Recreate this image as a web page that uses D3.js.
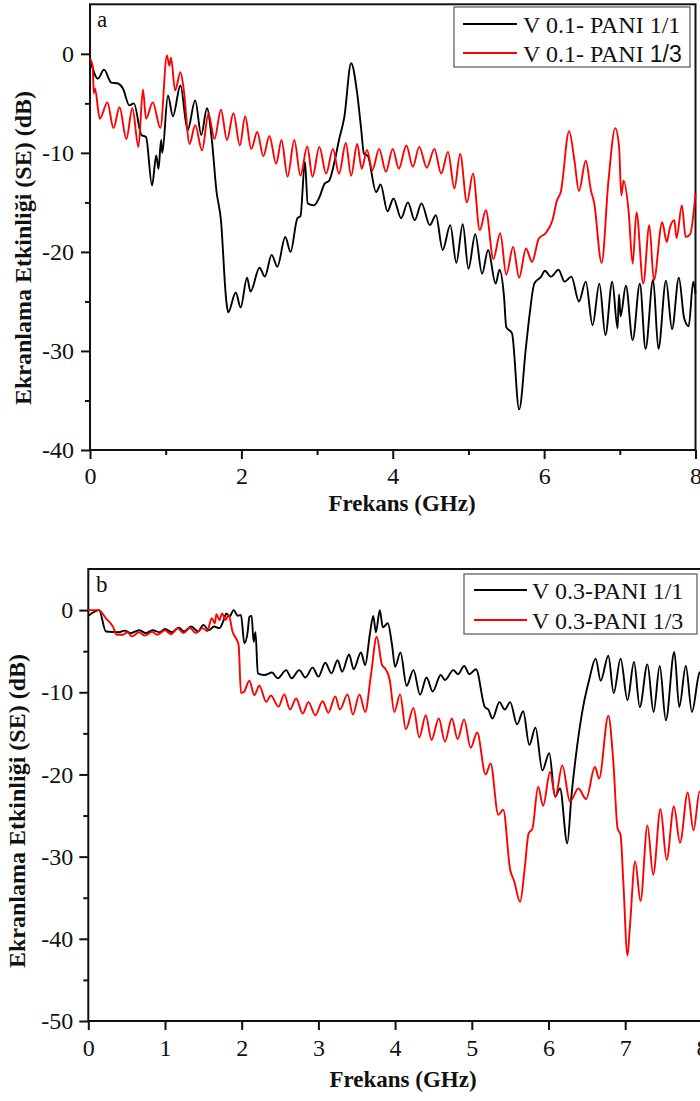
<!DOCTYPE html>
<html>
<head>
<meta charset="utf-8">
<script src="https://cdnjs.cloudflare.com/ajax/libs/d3/7.8.5/d3.min.js"></script>
<style>
  body { margin: 0; background: #fff; }
  svg { display: block; }
  .tick text { font-family: "Liberation Serif", "Times New Roman", serif; font-size: 24px; fill: #111; }
  .lbl { font-family: "Liberation Serif", "Times New Roman", serif; fill: #111; }
</style>
</head>
<body>
<svg id="chart" width="700" height="1101"></svg>
<script>
// panel a : V 0.1 - PANI
const freqA1 = [0.00,0.105,0.185,0.28,0.37,0.435,0.52,0.58,0.68,0.74,0.82,0.875,0.905,0.94,0.955,1.03,1.095,1.195,1.29,1.39,1.47,1.545,1.61,1.67,1.73,1.80,1.825,1.926,1.99,2.075,2.12,2.24,2.31,2.40,2.475,2.58,2.65,2.74,2.78,2.84,2.876,2.96,3.03,3.10,3.16,3.23,3.29,3.36,3.45,3.53,3.58,3.62,3.67,3.78,3.84,3.93,4.01,4.11,4.20,4.29,4.38,4.49,4.57,4.66,4.76,4.84,4.925,5.00,5.09,5.18,5.26,5.36,5.41,5.47,5.50,5.575,5.67,5.76,5.81,5.87,5.96,6.01,6.09,6.19,6.27,6.36,6.46,6.55,6.64,6.73,6.81,6.90,6.97,6.99,7.01,7.08,7.17,7.265,7.34,7.44,7.51,7.61,7.69,7.78,7.85,7.91,7.97,8.00];
const seA1 = [-0.5,-2.5,-1.6,-2.9,-3.0,-3.5,-5.2,-5.0,-8.2,-8.4,-13.3,-10.25,-11.6,-8.7,-10.0,-4.2,-6.3,-3.2,-7.7,-4.7,-8.2,-5.5,-8.7,-13.8,-16.8,-24.9,-26.1,-24.1,-25.6,-22.6,-24.0,-21.6,-22.5,-20.3,-21.5,-18.5,-20.0,-16.6,-16.4,-10.9,-15.1,-15.3,-14.5,-13.1,-12.8,-10.9,-8.7,-6.4,-0.95,-4.0,-7.4,-10.1,-10.3,-13.95,-13.2,-15.9,-14.6,-16.6,-15.0,-16.8,-15.1,-17.3,-16.3,-19.8,-17.3,-21.1,-17.2,-21.7,-18.2,-22.2,-19.8,-23.2,-21.8,-24.5,-27.6,-28.2,-35.9,-29.6,-26.2,-23.2,-22.5,-21.9,-22.5,-21.8,-23.0,-22.5,-25.0,-23.0,-27.4,-23.2,-28.4,-23.0,-27.7,-24.3,-26.5,-23.4,-28.9,-23.2,-29.8,-22.8,-29.8,-22.9,-27.8,-22.6,-26.7,-27.5,-23.0,-24.2];

const freqA3 = [0.00,0.035,0.05,0.065,0.13,0.23,0.31,0.39,0.48,0.56,0.64,0.70,0.74,0.83,0.93,1.016,1.05,1.07,1.125,1.195,1.24,1.315,1.39,1.48,1.565,1.645,1.73,1.81,1.895,1.98,2.05,2.13,2.21,2.29,2.37,2.46,2.53,2.61,2.70,2.78,2.87,2.94,3.03,3.12,3.21,3.29,3.38,3.45,3.53,3.59,3.66,3.73,3.82,3.91,4.00,4.08,4.18,4.265,4.35,4.45,4.55,4.64,4.73,4.815,4.89,4.98,5.06,5.15,5.23,5.33,5.42,5.50,5.59,5.67,5.76,5.84,5.93,6.02,6.11,6.17,6.22,6.33,6.40,6.46,6.55,6.62,6.66,6.76,6.85,6.94,6.99,7.02,7.05,7.115,7.17,7.22,7.31,7.39,7.45,7.56,7.62,7.66,7.72,7.75,7.82,7.87,7.93,8.00];
const seA3 = [-0.5,-1.2,-4.0,-3.5,-6.55,-4.9,-7.5,-5.4,-8.6,-5.5,-9.4,-3.6,-6.55,-4.9,-7.5,-0.17,-1.2,-0.4,-3.7,-1.85,-3.7,-9.1,-7.2,-9.75,-6.05,-8.6,-5.65,-8.7,-6.0,-9.25,-6.3,-9.6,-7.9,-10.35,-8.3,-11.1,-8.7,-12.4,-8.7,-12.3,-9.35,-12.4,-9.4,-12.1,-9.6,-12.1,-9.0,-12.3,-9.1,-11.6,-9.7,-11.75,-9.6,-11.9,-9.6,-11.6,-9.25,-11.4,-9.4,-11.5,-9.6,-12.1,-9.9,-13.6,-10.1,-15.0,-12.1,-17.8,-15.8,-20.7,-18.1,-22.3,-19.5,-22.6,-19.65,-21.0,-18.65,-18.1,-16.8,-14.8,-13.95,-7.8,-10.75,-13.85,-10.8,-13.85,-15.0,-21.1,-12.8,-7.5,-9.4,-14.3,-12.8,-15.8,-21.2,-16.0,-23.2,-17.3,-22.85,-17.0,-19.0,-17.6,-16.8,-18.6,-15.3,-18.5,-18.2,-14.1];

// panel b : V 0.3 - PANI
const freqB1 = [0.00,0.08,0.14,0.23,0.40,0.475,0.55,0.665,0.75,0.84,0.93,1.00,1.09,1.18,1.25,1.34,1.43,1.50,1.57,1.64,1.71,1.76,1.80,1.84,1.895,1.95,1.99,2.035,2.08,2.10,2.13,2.155,2.18,2.21,2.295,2.395,2.47,2.58,2.65,2.75,2.83,2.925,3.00,3.09,3.17,3.25,3.31,3.40,3.46,3.555,3.61,3.67,3.715,3.75,3.80,3.84,3.905,3.96,4.00,4.07,4.15,4.24,4.325,4.41,4.49,4.595,4.65,4.76,4.82,4.90,4.97,5.055,5.17,5.215,5.27,5.36,5.43,5.50,5.59,5.67,5.75,5.83,5.92,6.01,6.085,6.15,6.245,6.30,6.37,6.455,6.53,6.615,6.68,6.78,6.85,6.94,7.03,7.115,7.19,7.29,7.37,7.45,7.53,7.64,7.705,7.79,7.87,7.97,8.00];
const seB1 = [-0.7,-0.2,0.0,-2.6,-2.7,-2.5,-2.8,-2.45,-2.8,-2.45,-2.7,-2.3,-2.7,-2.15,-2.6,-2.0,-2.6,-1.8,-2.45,-2.0,-2.2,-1.35,-0.4,-0.8,0.0,-0.7,-0.6,-4.05,-2.5,-0.8,-0.7,-3.85,-2.7,-7.7,-7.9,-7.6,-8.3,-7.3,-8.3,-7.3,-8.2,-7.0,-8.1,-6.4,-7.7,-6.1,-7.5,-5.4,-7.2,-5.15,-6.7,-3.0,-0.7,-2.7,0.0,-2.1,-1.6,-4.25,-6.9,-5.15,-9.2,-7.3,-10.3,-8.2,-9.9,-7.9,-8.5,-7.3,-7.8,-6.8,-7.8,-7.2,-11.8,-12.1,-13.2,-11.2,-12.1,-11.2,-13.9,-12.3,-16.4,-14.3,-19.5,-17.4,-22.7,-21.7,-28.4,-22.5,-16.8,-11.6,-8.5,-5.9,-8.6,-5.55,-10.1,-5.9,-10.95,-6.3,-11.8,-6.6,-12.4,-6.8,-13.4,-5.1,-11.8,-6.8,-12.4,-7.6,-7.5];

const freqB3 = [0.00,0.135,0.23,0.32,0.37,0.45,0.51,0.57,0.66,0.74,0.83,0.90,1.00,1.08,1.165,1.24,1.325,1.40,1.49,1.55,1.61,1.65,1.67,1.71,1.745,1.79,1.83,1.88,1.96,1.99,2.03,2.10,2.165,2.23,2.32,2.38,2.48,2.555,2.63,2.71,2.795,2.87,2.96,3.055,3.13,3.22,3.28,3.38,3.45,3.535,3.61,3.685,3.76,3.83,3.87,3.93,3.99,4.065,4.14,4.24,4.315,4.40,4.475,4.57,4.65,4.74,4.815,4.90,4.985,5.07,5.18,5.245,5.345,5.41,5.50,5.55,5.63,5.69,5.74,5.79,5.865,5.93,6.02,6.09,6.18,6.28,6.39,6.49,6.605,6.66,6.78,6.845,6.90,6.94,6.975,7.03,7.06,7.13,7.20,7.29,7.365,7.46,7.54,7.635,7.715,7.815,7.89,7.97,8.00];
const seB3 = [0.0,0.0,-1.0,-2.0,-3.0,-3.0,-2.7,-3.2,-2.7,-3.1,-2.65,-3.0,-2.45,-2.95,-2.2,-2.8,-2.15,-2.8,-2.2,-2.55,-1.0,-1.6,-0.5,-1.2,-0.4,-1.2,-0.6,-2.6,-4.25,-10.1,-9.95,-8.6,-10.35,-9.2,-11.15,-10.4,-11.75,-10.25,-12.1,-10.75,-12.6,-11.2,-12.8,-11.1,-12.5,-10.5,-12.1,-10.25,-12.7,-10.25,-12.4,-7.9,-3.25,-6.7,-7.1,-8.5,-12.4,-10.25,-14.5,-11.9,-15.5,-12.8,-15.8,-13.2,-16.0,-13.2,-15.7,-13.3,-16.75,-14.9,-20.0,-18.65,-24.9,-24.3,-31.6,-32.9,-35.5,-31.4,-27.2,-26.6,-21.5,-23.8,-19.7,-22.7,-18.9,-23.3,-21.7,-23.0,-19.1,-20.5,-12.85,-18.45,-26.5,-27.4,-33.0,-42.05,-38.7,-30.6,-35.4,-26.2,-32.2,-24.2,-30.4,-23.9,-28.3,-22.2,-26.8,-22.1,-22.5];

const xTicksA = [0, 2, 4, 6, 8];
const xMinorA = [1, 3, 5, 7];
const yTicksA = [-40, -30, -20, -10, 0];
const yMinorA = [-35, -25, -15, -5];
const xTicksB = [0, 1, 2, 3, 4, 5, 6, 7, 8];
const yTicksB = [-50, -40, -30, -20, -10, 0];
const yMinorB = [-45, -35, -25, -15, -5];

const namesA = ['V 0.1- PANI 1/1', 'V 0.1- PANI 1/3'];
const namesB = ['V 0.3-PANI 1/1', 'V 0.3-PANI 1/3'];
const colors = ['#000000', '#ff0000'];

const xTitle = 'Frekans (GHz)';
const yTitle = 'Ekranlama Etkinliği (SE) (dB)';

const svg = d3.select('#chart');

const zip = (fs, vs) => fs.map((f, i) => [f, vs[i]]);

const drawPanel = p => {
    const x = d3.scaleLinear().domain([0, 8]).range([p.left, p.right]);
    const y = d3.scaleLinear().domain(p.yDomain).range([p.bottom, p.top]);
    const g = svg.append('g');

    // minor ticks, no labels
    if (p.xMinor) {
        g.append('g')
            .attr('transform', `translate(0,${p.bottom})`)
            .call(d3.axisBottom(x).tickValues(p.xMinor).tickSize(5).tickSizeOuter(0).tickFormat(''))
            .call(a => a.select('.domain').remove());
    }
    g.append('g')
        .attr('transform', `translate(${p.left},0)`)
        .call(d3.axisLeft(y).tickValues(p.yMinor).tickSize(5).tickSizeOuter(0).tickFormat(''))
        .call(a => a.select('.domain').remove());

    const xAxis = g.append('g')
        .attr('transform', `translate(0,${p.bottom})`)
        .call(d3.axisBottom(x).tickValues(p.xTicks).tickSize(9).tickPadding(p.xPad).tickSizeOuter(0).tickFormat(d => d));
    const yAxis = g.append('g')
        .attr('transform', `translate(${p.left},0)`)
        .call(d3.axisLeft(y).tickValues(p.yTicks).tickSize(9).tickPadding(p.yPad).tickSizeOuter(0).tickFormat(d => d));
    [xAxis, yAxis].forEach(a => a.select('.domain').remove());
    g.selectAll('.tick line').attr('stroke', '#111').attr('stroke-width', 2);

    // frame
    g.append('rect')
        .attr('x', p.left).attr('y', p.top)
        .attr('width', p.right - p.left).attr('height', p.bottom - p.top)
        .attr('fill', 'none').attr('stroke', '#111').attr('stroke-width', 2);

    const line = d3.line()
        .x(d => x(d[0]))
        .y(d => y(d[1]))
        .curve(d3.curveMonotoneX);

    p.series.forEach((s, i) => {
        g.append('path')
            .datum(s)
            .attr('d', line)
            .attr('fill', 'none')
            .attr('stroke', colors[i])
            .attr('stroke-width', 1.9)
            .attr('stroke-linejoin', 'round');
    });

    // legend
    const lg = p.legend;
    g.append('rect')
        .attr('x', lg.x0).attr('y', lg.y0)
        .attr('width', lg.x1 - lg.x0).attr('height', lg.y1 - lg.y0)
        .attr('fill', '#fff').attr('stroke', '#555').attr('stroke-width', 1.2);
    p.names.forEach((n, i) => {
        const ly = lg.rows[i];
        g.append('line')
            .attr('x1', lg.lx0).attr('x2', lg.lx1)
            .attr('y1', ly).attr('y2', ly)
            .attr('stroke', colors[i]).attr('stroke-width', 1.8);
        const t = g.append('text')
            .attr('class', 'lbl')
            .attr('x', lg.tx).attr('y', ly)
            .attr('dy', '0.36em')
            .style('font-size', '24px');
        if (p.sansFraction && i === 1) {
            const k = n.lastIndexOf(' ');
            t.append('tspan').text(n.slice(0, k + 1));
            t.append('tspan').style('font-family', '"Liberation Sans", Arial, sans-serif')
                .style('font-size', '23px').text(n.slice(k + 1));
        } else {
            t.text(n);
        }
    });

    g.append('text')
        .attr('class', 'lbl')
        .attr('x', p.tag[0]).attr('y', p.tag[1])
        .style('font-size', '23px')
        .text(p.tagText);

    g.append('text')
        .attr('class', 'lbl')
        .attr('x', p.xTitlePos[0]).attr('y', p.xTitlePos[1])
        .attr('text-anchor', 'middle')
        .style('font-size', '23px').style('font-weight', 'bold')
        .text(xTitle);

    g.append('text')
        .attr('class', 'lbl')
        .attr('transform', `translate(${p.yTitlePos[0]},${p.yTitlePos[1]}) rotate(-90)`)
        .attr('text-anchor', 'middle')
        .style('font-size', '24px').style('font-weight', 'bold')
        .text(yTitle);
};

drawPanel({
    left: 90, right: 695.5, top: 4.3, bottom: 450,
    yDomain: [-40, 5],
    xTicks: xTicksA, xMinor: xMinorA, yTicks: yTicksA, yMinor: yMinorA,
    xPad: 8, yPad: 7,
    series: [zip(freqA1, seA1), zip(freqA3, seA3)],
    names: namesA, sansFraction: true,
    legend: { x0: 454, x1: 690, y0: 7, y1: 67, lx0: 463, lx1: 517, tx: 523, rows: [24, 53] },
    tag: [97, 27], tagText: 'a',
    xTitlePos: [402, 511],
    yTitlePos: [31, 248]
});

drawPanel({
    left: 88.3, right: 701.9, top: 569, bottom: 1021,
    yDomain: [-50, 5],
    xTicks: xTicksB, xMinor: null, yTicks: yTicksB, yMinor: yMinorB,
    xPad: 9, yPad: 6,
    series: [zip(freqB1, seB1), zip(freqB3, seB3)],
    names: namesB, sansFraction: false,
    legend: { x0: 464, x1: 697, y0: 574, y1: 634, lx0: 474, lx1: 527, tx: 532, rows: [590, 620] },
    tag: [96, 592], tagText: 'b',
    xTitlePos: [403, 1087],
    yTitlePos: [25, 811]
});
</script>
</body>
</html>
